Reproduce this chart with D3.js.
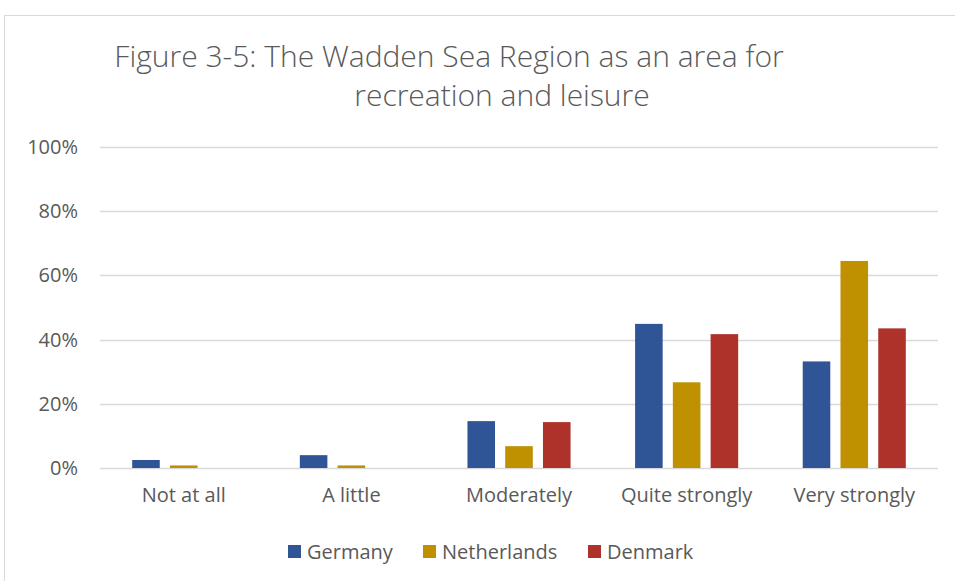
<!DOCTYPE html>
<html>
<head>
<meta charset="utf-8">
<script src="https://cdn.jsdelivr.net/npm/d3@7"></script>
<style>
  body { margin: 0; background: #fff; }
  svg text { font-family: "Open Sans", "Noto Sans", sans-serif; fill: #595959; }
</style>
</head>
<body>
<div id="chart"></div>
<script>
const categories = ["Not at all", "A little", "Moderately", "Quite strongly", "Very strongly"]
const seriesNames = ["Germany", "Netherlands", "Denmark"]
const germany = [2.5, 4.0, 14.6, 44.9, 33.2]
const netherlands = [0.8, 0.8, 6.8, 26.7, 64.5]
const denmark = [0, 0, 14.3, 41.7, 43.5]
const yTicks = [0, 20, 40, 60, 80, 100]
const colors = ["#2F5597", "#BF9000", "#AE3229"]

const values = [germany, netherlands, denmark]
const width = 955, height = 581
const margin = { left: 100, right: 17, top: 147, bottom: 113 }

const svg = d3.select("#chart").append("svg")
    .attr("width", width)
    .attr("height", height)

// chart frame
svg.append("rect")
    .attr("x", 4.5).attr("y", 15.5)
    .attr("width", width + 10).attr("height", height + 10)
    .attr("fill", "none")
    .attr("stroke", "#d9d9d9")

const x = d3.scaleBand()
    .domain(categories)
    .range([margin.left, width - margin.right])
    .paddingInner(0.385)
    .paddingOuter(0.192)

const xs = d3.scaleBand()
    .domain(seriesNames)
    .range([0, x.bandwidth()])
    .paddingInner(0.27)

const y = d3.scaleLinear()
    .domain([0, 100])
    .range([height - margin.bottom, margin.top])

// gridlines
svg.append("g")
    .selectAll("line")
    .data(yTicks)
    .join("line")
    .attr("x1", margin.left)
    .attr("x2", width - margin.right)
    .attr("y1", d => Math.round(y(d)) + 0.5)
    .attr("y2", d => Math.round(y(d)) + 0.5)
    .attr("stroke", "#d9d9d9")
    .attr("stroke-width", 1.3)

const yAxis = svg.append("g")
    .attr("transform", `translate(${margin.left - 22},0)`)
    .call(d3.axisLeft(y).tickValues(yTicks).tickFormat(d => d + "%").tickSize(0))
yAxis.select(".domain").remove()
yAxis.selectAll("text")
    .attr("x", 0)
    .style("font-size", "20px")
    .attr("fill", "#595959")

// bars
seriesNames.forEach((name, i) => {
    svg.append("g")
        .attr("fill", colors[i])
        .selectAll("rect")
        .data(values[i])
        .join("rect")
        .attr("x", (d, j) => x(categories[j]) + xs(name))
        .attr("width", xs.bandwidth())
        .attr("y", d => y(d))
        .attr("height", d => y(0) - y(d))
})

const xAxis = svg.append("g")
    .attr("transform", `translate(0,${y(0)})`)
    .call(d3.axisBottom(x).tickSize(0).tickPadding(20))
xAxis.select(".domain").remove()
xAxis.selectAll("text")
    .style("font-size", "20px")
    .attr("fill", "#595959")

// title
const title = svg.append("text")
    .attr("text-anchor", "middle")
    .style("font-size", "30px")
    .style("font-weight", 300)
title.append("tspan").attr("x", 449).attr("y", 67)
    .text("Figure 3-5: The Wadden Sea Region as an area for")
title.append("tspan").attr("x", 502).attr("y", 106)
    .text("recreation and leisure")

// legend
const legendX = [288, 423, 588]
const legend = svg.append("g")
    .selectAll("g")
    .data(seriesNames)
    .join("g")
    .attr("transform", (d, i) => `translate(${legendX[i]},545)`)
legend.append("rect")
    .attr("width", 13).attr("height", 13)
    .attr("fill", (d, i) => colors[i])
legend.append("text")
    .attr("x", 19)
    .attr("y", 14)
    .style("font-size", "20px")
    .text(d => d)
</script>
</body>
</html>
